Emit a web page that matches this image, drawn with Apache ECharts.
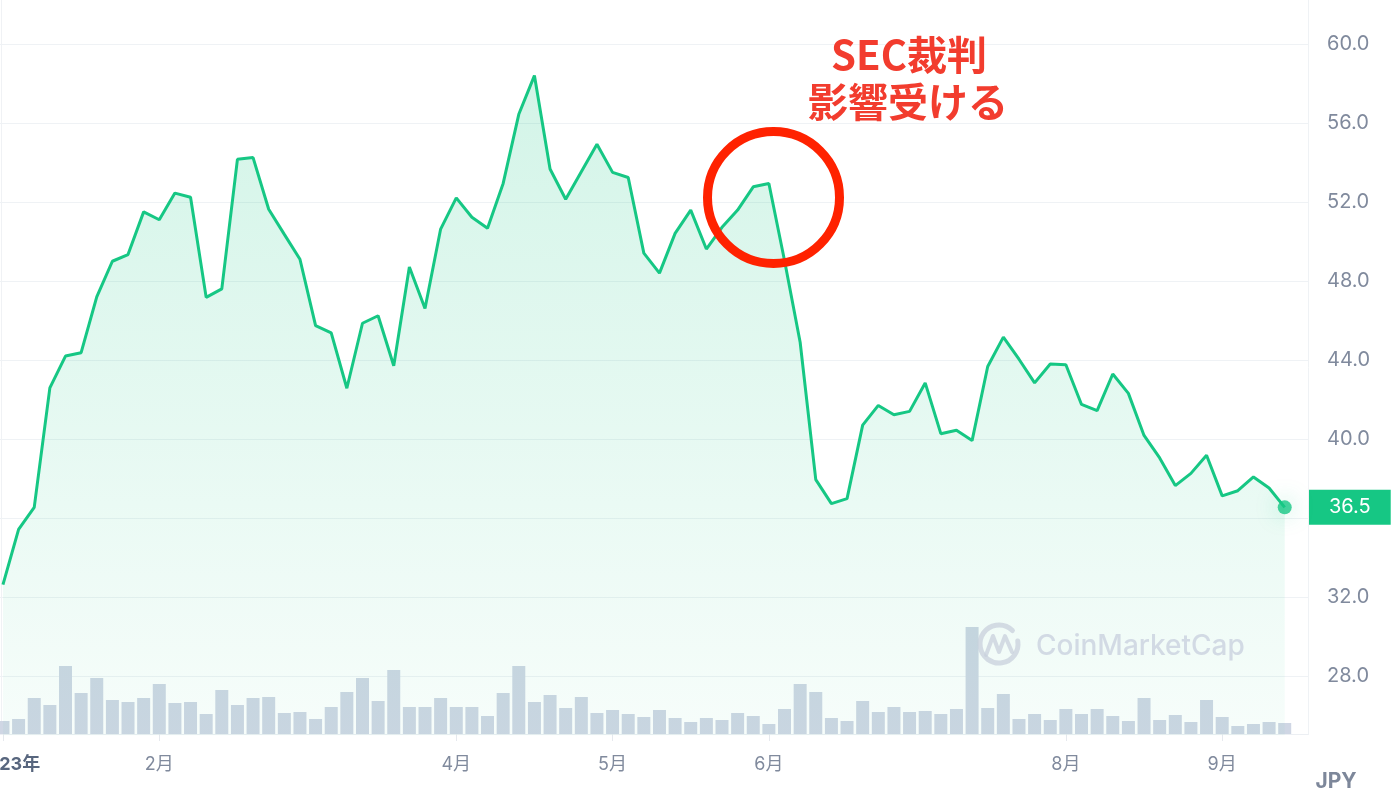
<!DOCTYPE html>
<html>
<head>
<meta charset="utf-8">
<script src="https://cdn.jsdelivr.net/npm/echarts@6/dist/echarts.min.js"></script>
<style>
html,body{margin:0;padding:0;background:#ffffff;}
#chart{width:1394px;height:800px;}
</style>
</head>
<body>
<div id="chart"></div>
<script>
// ---- data ----
const PRICES = [
  32.63, 35.42, 36.54, 42.59, 44.20, 44.37, 47.20, 49.00, 49.34, 51.50,
  51.10, 52.45, 52.24, 47.17, 47.60, 54.16, 54.25, 51.63, 50.36, 49.10,
  45.74, 45.37, 42.57, 45.86, 46.24, 43.71, 48.71, 46.61, 50.63, 52.21,
  51.23, 50.67, 52.94, 56.44, 58.40, 53.67, 52.14, 53.53, 54.92, 53.50,
  53.24, 49.41, 48.40, 50.41, 51.59, 49.62, 50.72, 51.59, 52.77, 52.94,
  49.04, 44.90, 37.94, 36.73, 36.98, 40.70, 41.70, 41.23, 41.40, 42.84,
  40.27, 40.44, 39.92, 43.67, 45.16, 44.04, 42.84, 43.80, 43.76, 41.75,
  41.44, 43.29, 42.31, 40.18, 39.04, 37.64, 38.26, 39.18, 37.12, 37.38,
  38.08, 37.52, 36.54
];
const VOLUMES = [
  13, 15, 36, 29, 68, 41, 56, 34, 32, 36,
  50, 31, 32, 20, 44, 29, 36, 37, 21, 22,
  15, 27, 42, 56, 33, 64, 27, 27, 36, 27,
  27, 18, 41, 68, 32, 39, 26, 37, 21, 24,
  20, 17, 24, 16, 12, 16, 14, 21, 18, 10,
  25, 50, 42, 16, 13, 33, 22, 27, 22, 23,
  20, 25, 107, 26, 40, 15, 20, 14, 25, 20,
  25, 18, 13, 36, 14, 19, 12, 34, 17, 8,
  10, 12, 11
];
const MONTH_LABELS = ['2023年', '2月', '4月', '5月', '6月', '8月', '9月'];
const MONTH_FIRST_INDEX = [0, 10, 29, 39, 49, 68, 78];
const PRICE_TICK_MIN = 24;
const PRICE_TICK_MAX = 64;
const PRICE_TICK_STEP = 4;
const ANNOTATION_LINES = ['SEC裁判', '影響受ける'];
const CURRENCY = 'JPY';
const WATERMARK = 'CoinMarketCap';

// ---- chart ----
const GREEN = '#16c784';
const FONT = 'Inter, "Noto Sans CJK JP", sans-serif';
const lastIdx = PRICES.length - 1;
const lastVal = PRICES[lastIdx];
const X_MIN = -0.19, X_MAX = 83.49;

const chart = echarts.init(document.getElementById('chart'), null, {renderer: 'canvas'});

const option = {
  animation: false,
  backgroundColor: '#ffffff',
  textStyle: {fontFamily: FONT},
  grid: [
    {left: 0, right: 86, top: -35, bottom: 45, containLabel: false, outerBoundsMode: 'none'},
    {left: 0, right: 86, top: 534, bottom: 66, containLabel: false, outerBoundsMode: 'none'}
  ],
  xAxis: [
    {gridIndex: 0, type: 'value', min: X_MIN, max: X_MAX, show: false},
    {
      gridIndex: 1, type: 'value', min: X_MIN, max: X_MAX,
      axisLine: {show: true, lineStyle: {color: '#eceff3', width: 1}},
      axisTick: {show: true, customValues: MONTH_FIRST_INDEX, length: 7, lineStyle: {color: '#e6e9ee'}},
      splitLine: {show: false},
      axisLabel: {
        customValues: MONTH_FIRST_INDEX,
        margin: 22,
        fontSize: 18,
        color: '#808a9d',
        fontFamily: FONT,
        formatter: function (v) {
          const k = MONTH_FIRST_INDEX.indexOf(v);
          if (k < 0) return '';
          if (k === 0) return '{yr|' + MONTH_LABELS[0] + '}';
          return MONTH_LABELS[k];
        },
        rich: {
          yr: {fontWeight: 'bold', fontSize: 18, color: '#58667e', padding: [0, 0, 0, 10], fontFamily: FONT}
        }
      }
    }
  ],
  yAxis: [
    {
      gridIndex: 0, type: 'value', position: 'right',
      min: PRICE_TICK_MIN, max: PRICE_TICK_MAX, interval: PRICE_TICK_STEP,
      axisLine: {show: false}, axisTick: {show: false},
      splitLine: {show: true, showMinLine: false, lineStyle: {color: '#eff2f5', width: 1}},
      axisLabel: {
        color: '#808a9d', fontSize: 20, margin: 19, fontFamily: FONT,
        showMinLabel: false,
        formatter: function (v) { return v.toFixed(1); }
      }
    },
    {gridIndex: 1, type: 'value', min: 0, max: 200, show: false}
  ],
  series: [
    {
      type: 'line',
      xAxisIndex: 0, yAxisIndex: 0,
      data: PRICES.map((v, i) => [i, v]),
      showSymbol: false,
      clip: false,
      lineStyle: {color: GREEN, width: 3},
      itemStyle: {color: GREEN},
      areaStyle: {
        origin: 25,
        color: new echarts.graphic.LinearGradient(0, 0, 0, 1, [
          {offset: 0, color: 'rgba(22,199,132,0.27)'},
          {offset: 1, color: 'rgba(22,199,132,0.05)'}
        ])
      },
      markLine: {
        silent: true,
        symbol: ['none', 'none'],
        lineStyle: {color: 'rgba(0,0,0,0)', width: 1, type: 'solid'},
        label: {
          show: true,
          position: 'end',
          distance: 1,
          formatter: function (p) { return Number(p.value).toFixed(1); },
          backgroundColor: GREEN,
          color: '#ffffff',
          fontSize: 20,
          fontFamily: FONT,
          padding: [8, 20, 7, 20]
        },
        emphasis: {disabled: true},
        data: [{yAxis: lastVal}]
      },
      z: 3
    },
    {
      type: 'scatter',
      xAxisIndex: 0, yAxisIndex: 0,
      data: [[lastIdx, lastVal]],
      symbolSize: 14,
      itemStyle: {color: GREEN, shadowBlur: 22, shadowColor: 'rgba(22,199,132,0.45)'},
      silent: true,
      z: 5
    },
    {
      type: 'bar',
      xAxisIndex: 1, yAxisIndex: 1,
      data: VOLUMES.map((v, i) => [i, v]),
      barWidth: 13,
      itemStyle: {color: '#cfd6e4'},
      silent: true,
      z: 2
    }
  ],
  graphic: [
    // plot border lines
    {type: 'line', shape: {x1: 1.5, y1: 0, x2: 1.5, y2: 735}, style: {stroke: '#f0f2f5', lineWidth: 1}, silent: true},
    {type: 'line', shape: {x1: 1308.5, y1: 0, x2: 1308.5, y2: 735}, style: {stroke: '#eff2f5', lineWidth: 1}, silent: true},
    // watermark
    {
      type: 'arc', silent: true, z: 10,
      shape: {cx: 999, cy: 644, r: 19, startAngle: -Math.PI * 0.05, endAngle: Math.PI * 1.75},
      style: {stroke: 'rgba(200,208,220,0.75)', lineWidth: 5, fill: 'none', lineCap: 'round'}
    },
    {
      type: 'polyline', silent: true, z: 10,
      shape: {points: [[986, 655], [993, 636], [999, 652], [1005, 636], [1012, 652]]},
      style: {stroke: 'rgba(200,208,220,0.75)', lineWidth: 4, fill: 'none', lineJoin: 'round', lineCap: 'round'}
    },
    {
      type: 'text', silent: true, z: 10, x: 1036, y: 647,
      style: {text: WATERMARK, font: '500 28px Inter, sans-serif', fill: 'rgba(205,212,224,0.85)', textAlign: 'left', textVerticalAlign: 'middle'}
    },
    // annotation
    {
      type: 'circle', silent: true, z: 20,
      shape: {cx: 773.5, cy: 197.5, r: 66},
      style: {stroke: '#ff2200', lineWidth: 9, fill: 'none'}
    },
    {
      type: 'text', silent: true, z: 20, x: 909, y: 55,
      style: {text: ANNOTATION_LINES[0], font: 'bold 40px "Noto Sans CJK JP", sans-serif', fill: '#f23c2e', textAlign: 'center', textVerticalAlign: 'middle'}
    },
    {
      type: 'text', silent: true, z: 20, x: 908, y: 102,
      style: {text: ANNOTATION_LINES[1], font: 'bold 40px "Noto Sans CJK JP", sans-serif', fill: '#f23c2e', textAlign: 'center', textVerticalAlign: 'middle'}
    },
    // currency label
    {
      type: 'text', silent: true, x: 1336, y: 782,
      style: {text: CURRENCY, font: 'bold 21px Inter, sans-serif', fill: '#7d879a', textAlign: 'center', textVerticalAlign: 'middle'}
    }
  ]
};

chart.setOption(option);
</script>
</body>
</html>
